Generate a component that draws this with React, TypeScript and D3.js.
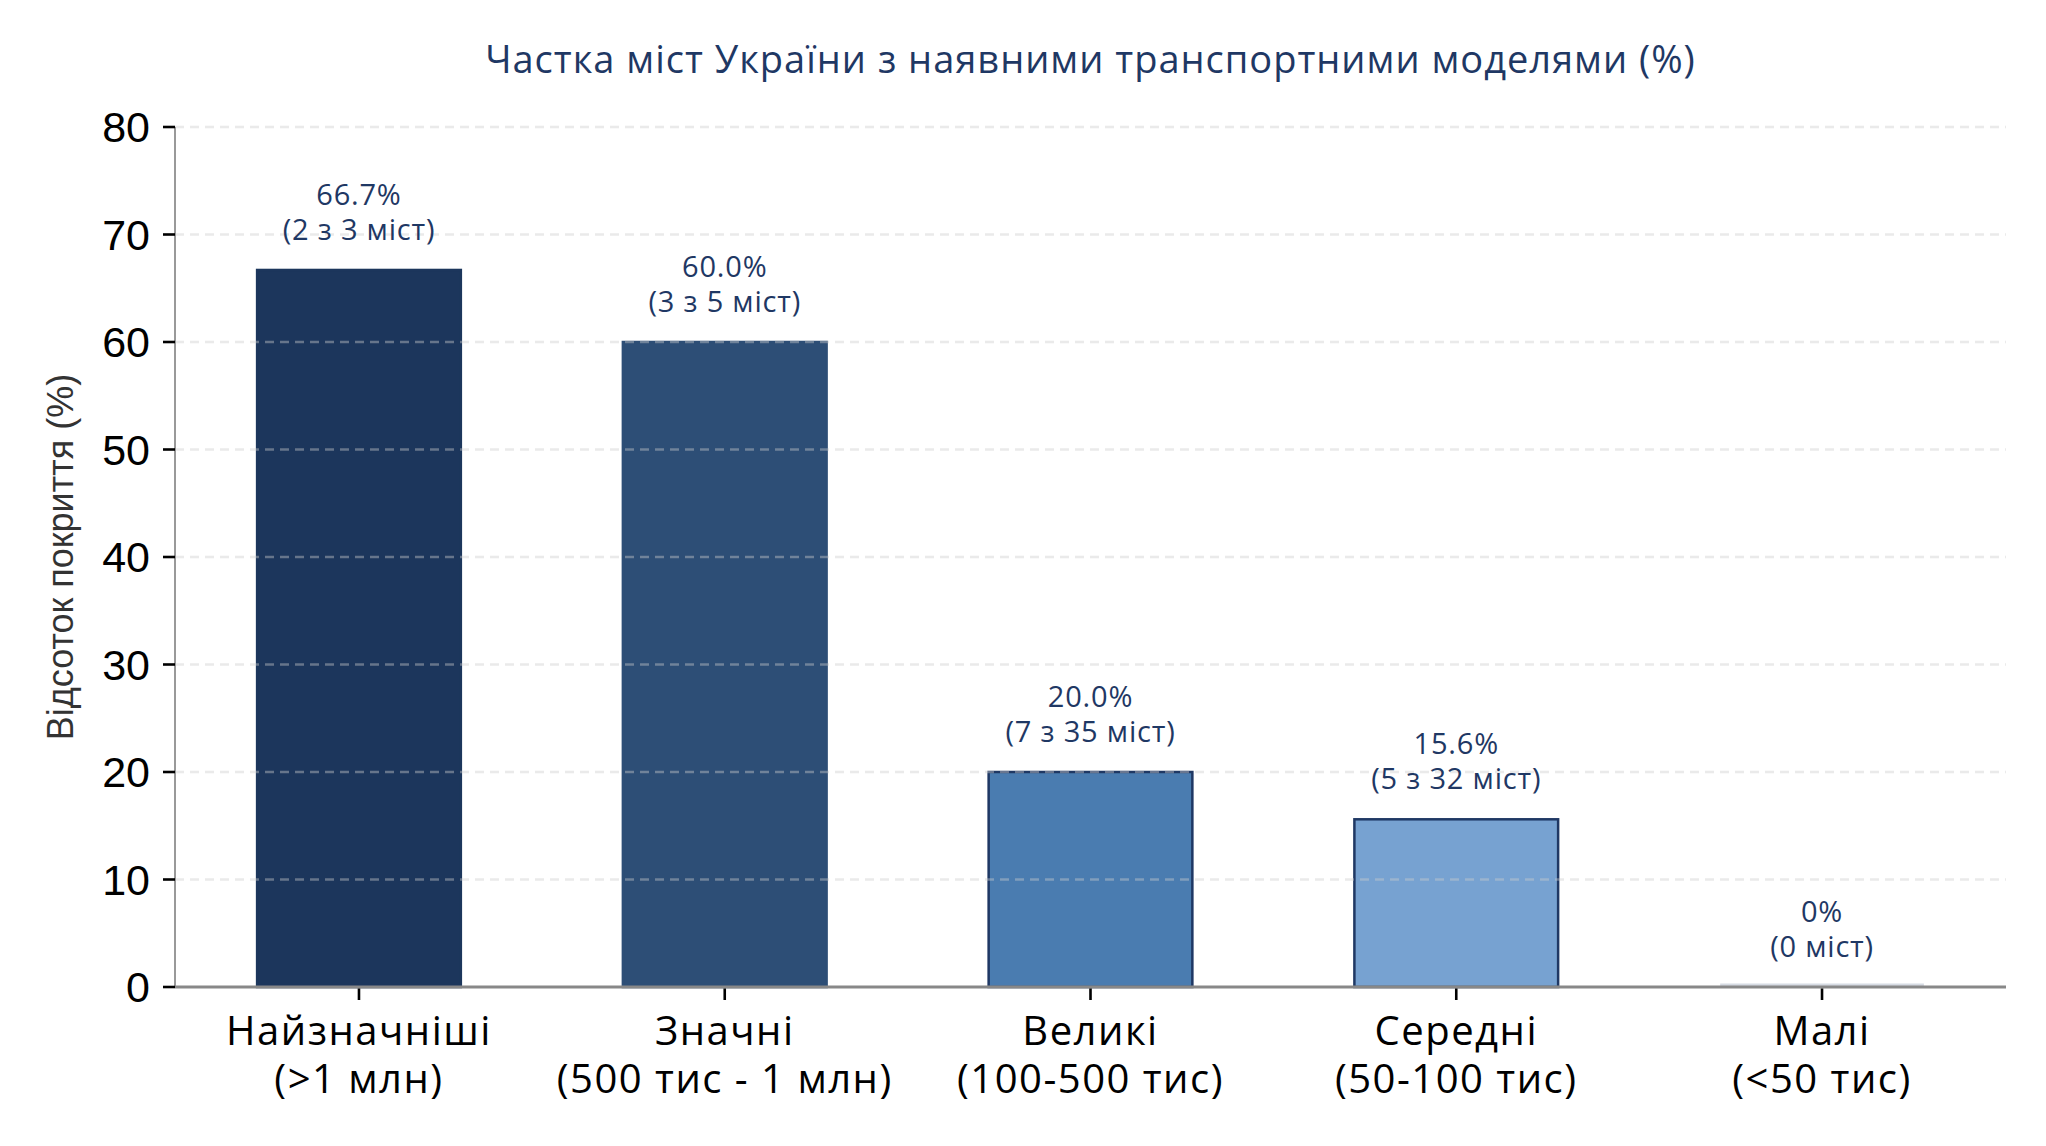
import * as React from "react";
import * as d3 from "d3";

const CATEGORIES = ["Найзначніші", "Значні", "Великі", "Середні", "Малі"];
const RANGES = ["(>1 млн)", "(500 тис - 1 млн)", "(100-500 тис)", "(50-100 тис)", "(<50 тис)"];
const SHARES = [66.7, 60.0, 20.0, 15.6, 0];
const WITH_MODEL = [2, 3, 7, 5, 0];
const TOTAL_CITIES = [3, 5, 35, 32, 0];
const BAR_COLORS = ["#1c365c", "#2d4e76", "#4a7cb0", "#77a2d1", "#c9d7e8"];
const Y_TICKS = [0, 10, 20, 30, 40, 50, 60, 70, 80];

const TITLE = "Частка міст України з наявними транспортними моделями (%)";
const Y_LABEL = "Відсоток покриття (%)";

const GEO_FONT = "'Open Sans', Lato, sans-serif";
const TICK_FONT = "'Liberation Sans', Arial, sans-serif";
const NAVY = "#1f3864";

export default function App() {
  const [width, height] = [2046, 1146];
  const margin = { left: 175, right: 40, top: 127, bottom: 159 };

  const x = d3
    .scaleBand<number>()
    .domain(CATEGORIES.map((d, i) => i))
    .range([margin.left, width - margin.right])
    .paddingInner(0.443)
    .paddingOuter(0.2245);

  const y = d3
    .scaleLinear()
    .domain([0, 80])
    .range([height - margin.bottom, margin.top]);

  const y0 = y(0);
  const labelText = (i: number) =>
    SHARES[i] === 0 ? "0%" : `${SHARES[i].toFixed(1)}%`;
  const countText = (i: number) =>
    TOTAL_CITIES[i] === 0 ? "(0 міст)" : `(${WITH_MODEL[i]} з ${TOTAL_CITIES[i]} міст)`;

  return (
    <div style={{ position: "fixed", left: 0, top: 0 }}>
      <svg width={width} height={height} style={{ display: "block", background: "#fff" }}>
        <text
          x={(margin.left + width - margin.right) / 2}
          y={73}
          textAnchor="middle"
          fontFamily={GEO_FONT}
          fontSize={38}
          letterSpacing={1}
          fill={NAVY}
        >
          {TITLE}
        </text>

        {/* bars */}
        {SHARES.map((v, i) =>
          v > 0 ? (
            <rect
              key={i}
              x={x(i)}
              y={y(v)}
              width={x.bandwidth()}
              height={y0 - y(v)}
              fill={BAR_COLORS[i]}
              stroke={i < 2 ? BAR_COLORS[i] : NAVY}
              strokeWidth={2.5}
            />
          ) : (
            <line
              key={i}
              x1={x(i)}
              x2={(x(i) as number) + x.bandwidth()}
              y1={y0 - 2}
              y2={y0 - 2}
              stroke="#d6dbe3"
              strokeWidth={3}
            />
          )
        )}

        {/* grid over bars */}
        {Y_TICKS.filter((t) => t > 0).map((t) => (
          <line
            key={t}
            x1={margin.left}
            x2={width - margin.right}
            y1={y(t)}
            y2={y(t)}
            stroke="#cccccc"
            strokeOpacity={0.42}
            strokeWidth={2.5}
            strokeDasharray="9,6"
          />
        ))}

        {/* axes */}
        <line x1={margin.left} x2={margin.left} y1={margin.top} y2={y0} stroke="#999" strokeWidth={2} />
        <line x1={margin.left} x2={width - margin.right} y1={y0} y2={y0} stroke="#888" strokeWidth={3} />

        {Y_TICKS.map((t) => (
          <g key={t}>
            <line x1={margin.left - 12} x2={margin.left} y1={y(t)} y2={y(t)} stroke="#000" strokeWidth={2.6} />
            <text
              x={margin.left - 25}
              y={y(t)}
              textAnchor="end"
              dominantBaseline="central"
              fontFamily={TICK_FONT}
              fontSize={43}
              fill="#000"
            >
              {t}
            </text>
          </g>
        ))}

        {CATEGORIES.map((c, i) => {
          const cx = (x(i) as number) + x.bandwidth() / 2;
          const top = y(SHARES[i]);
          return (
            <g key={c}>
              <line x1={cx} x2={cx} y1={y0 + 1.5} y2={y0 + 13} stroke="#000" strokeWidth={2.6} />
              <text x={cx} y={1045} textAnchor="middle" fontFamily={GEO_FONT} fontSize={40} letterSpacing={1.5} fill="#000">
                {c}
              </text>
              <text x={cx} y={1093} textAnchor="middle" fontFamily={GEO_FONT} fontSize={40} letterSpacing={1.5} fill="#000">
                {RANGES[i]}
              </text>
              <text x={cx} y={top - 65} textAnchor="middle" fontFamily={GEO_FONT} fontSize={29} letterSpacing={0.8} fill={NAVY}>
                {labelText(i)}
              </text>
              <text x={cx} y={top - 30} textAnchor="middle" fontFamily={GEO_FONT} fontSize={29} letterSpacing={0.8} fill={NAVY}>
                {countText(i)}
              </text>
            </g>
          );
        })}

        <text
          transform={`translate(60,${(margin.top + y0) / 2}) rotate(-90)`}
          textAnchor="middle"
          dominantBaseline="central"
          fontFamily={TICK_FONT}
          fontSize={36}
          fill="#333"
        >
          {Y_LABEL}
        </text>
      </svg>
    </div>
  );
}
